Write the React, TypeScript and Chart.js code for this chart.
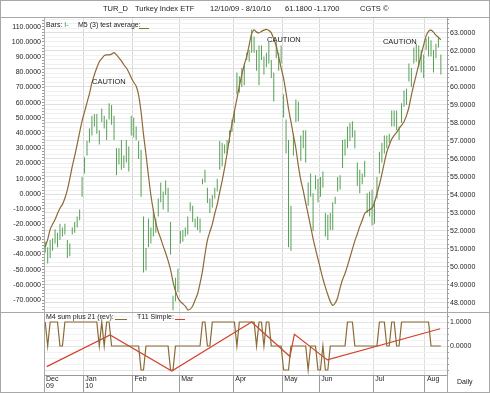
import { useEffect, useRef } from 'react';
import { Chart, registerables } from 'chart.js';

Chart.register(...registerables);

const FONT = "'Liberation Sans', Arial, Helvetica, sans-serif";
const BROWN = '#8c6a36';
const RED = '#d4402c';
const GREEN = '#55a055';
const FRAME = '#a8a8a8';
const TEXT = '#222222';

// ---- price bars (right axis), one per trading day, 12/10/09 .. 8/10/10 ----
const barLow = [
  50.8, 50.2, 50.5, 50.9, 51.3, 51.1, 51.5, 51.7, 51.8, 50.5, 50.6, 51.8, 51.9, 52.2, 52.6, 53.9,
  55.2, 56.2, 56.9, 57.3, 57.8, 57.4, 56.8, 58.05, 57.7, 57.05, 58.2, 57.9, 57.05, 55.1, 55.7, 55.4,
  55.5, 55.8, 55.3, 57.3, 57.2, 57.05, 56.0, 53.9, 49.7, 49.8, 51.1, 51.3, 51.7, 51.9, 52.8, 53.6,
  53.2, 54.0, 53.05, 50.7, 47.6, 48.1, 48.6, 51.3, 51.4, 51.7, 51.8, 53.1, 52.5, 52.2, 52.05, 51.9,
  54.6, 54.7, 53.55, 53.0, 53.3, 53.8, 54.2, 55.4, 55.6, 56.3, 56.3, 56.9, 57.5, 58.0, 59.6, 59.7,
  60.0, 60.1, 61.5, 61.4, 61.9, 61.9, 60.9, 60.1, 61.5, 60.7, 61.1, 61.3, 60.5, 59.2, 61.6, 60.9,
  61.3, 58.3, 56.3, 51.1, 50.9, 56.2, 58.05, 58.1, 55.9, 56.6, 55.8, 53.4, 53.9, 52.0, 54.3, 53.6,
  53.9, 54.4, 51.7, 51.5, 52.05, 52.05, 53.5, 54.2, 54.3, 55.5, 56.2, 56.6, 57.0, 57.2, 56.6, 54.5,
  54.1, 54.6, 55.0, 53.0, 52.8, 52.3, 52.4, 53.8, 55.2, 55.8, 56.3, 56.6, 56.9, 57.8, 57.8, 57.6,
  57.05, 58.0, 58.9, 59.0, 60.3, 60.0, 61.3, 61.4, 61.1, 60.8, 60.5, 62.05, 61.7, 61.7, 60.8, 61.6,
  62.2, 60.7,
];
const barHigh = [
  51.4, 51.1, 51.5, 51.6, 52.1, 51.9, 52.4, 52.2, 52.4, 51.5, 51.3, 52.2, 52.5, 52.8, 53.2, 55.0,
  56.1, 57.0, 57.7, 58.4, 58.5, 58.5, 57.6, 58.8, 58.4, 58.2, 59.1, 59.0, 58.4, 56.6, 56.6, 57.05,
  56.2, 57.05, 56.7, 58.4, 58.3, 57.8, 57.0, 56.5, 52.8, 51.05, 52.7, 52.2, 53.2, 52.7, 53.8, 54.7,
  54.2, 54.8, 54.4, 52.5, 48.4, 49.4, 49.9, 52.0, 52.05, 52.2, 52.8, 53.6, 53.4, 52.7, 52.8, 52.7,
  54.9, 55.4, 54.4, 53.8, 54.0, 54.4, 54.9, 57.0, 56.9, 56.8, 57.05, 57.6, 58.2, 58.7, 60.8, 60.6,
  61.05, 61.2, 61.9, 62.05, 63.2, 62.8, 62.05, 62.3, 62.3, 61.7, 61.9, 62.5, 61.5, 60.8, 62.5, 61.9,
  62.3, 59.6, 58.2, 57.05, 53.4, 57.4, 59.3, 59.2, 57.3, 57.6, 57.6, 54.7, 55.2, 54.1, 55.1, 54.9,
  55.0, 55.3, 53.0, 52.9, 53.0, 53.6, 53.9, 55.0, 55.1, 57.05, 57.1, 57.8, 58.0, 58.1, 57.6, 55.8,
  55.4, 55.2, 55.9, 54.1, 54.2, 54.3, 53.7, 55.0, 56.4, 56.9, 57.3, 57.3, 57.4, 58.7, 58.7, 58.7,
  57.8, 59.1, 59.8, 59.9, 61.3, 61.05, 62.2, 62.4, 62.3, 62.05, 61.8, 62.7, 62.8, 62.6, 62.05, 62.4,
  62.8, 61.8,
];

// ---- M5 (3) test average (left axis) ----
const oscillator = [
  -35, -30, -23.5, -20, -17, -13, -9.5, -7, -3, 2.5, 10, 18, 25, 32.5, 40.5, 48,
  54, 60, 66, 73, 78.5, 83, 87, 89, 91, 91.5, 91.5, 92, 93, 91.5, 89.5, 87.5,
  85, 83, 80, 76.5, 73.5, 71, 65, 54, 39, 26, 12, -1, -11, -19, -25, -29.5,
  -34.5, -39, -44, -50, -58, -64, -68.5, -71, -72.5, -74, -76.5, -76, -74, -70, -66, -59,
  -51, -40, -30.5, -25, -20, -13, -7, 1, 8.5, 17, 26.5, 37, 46, 54.5, 62.5, 71,
  78.5, 85, 90.5, 98, 105.5, 108, 106.5, 106, 107, 107.8, 108.3, 107.5, 106, 102, 97.5, 90,
  83, 76, 66.5, 56, 47.5, 38.5, 30, 18.5, 9, 2, -6, -13.5, -21.5, -29.5, -36.5, -43,
  -49.5, -56, -61.5, -66.5, -71, -73.5, -72, -68.5, -62, -56.5, -52.5, -47.5, -42, -36.5, -31, -26.5,
  -21.5, -17.5, -13, -11.5, -10.5, -9.5, -5.5, 0, 6, 13, 20.5, 27.5, 32, 36, 38.5, 40.5,
  43, 45, 47.5, 51.5, 57, 65, 72, 78.5, 85, 91.5, 98, 104, 107, 107.8, 106.5, 104.5,
  103, 101.5,
];

// ---- M4 sum plus 21 (rev) (lower panel) ----
const stepSignal = [
  1, 0, 1, 1, 1, 1, 0, 0, 1,
  1, 1, 1, 1, 1, 1, 1, 1, 1, 1, 1, 1, 1,
  0, 1, 0, 1, 1, 0,
  0, 0, 0, 0, 0, 0, 0, 0, 0, 0, 0,
  -1, -1,
  0, 0, 0, 0, 0, 0, 0, 0, 0, 0,
  -1, -1,
  0, 0, 0, 0, 0, 0, 0, 0, 0, 0, 0,
  1, 1, 0, 0,
  1, 1, 1, 1, 1, 1, 1, 1, 1, 1,
  0,
  1, 1, 1, 1, 1, 1, 1,
  0, 1, 1, 0, 1, 1,
  0, 0, 0, 0, 0,
  -1, -1, -1,
  0, 0, 0, 0, 0, 0, 0,
  -1,
  0, 0, 0,
  -1, -1, 0, -1, -1,
  0, 0, 0, 0, 0, 0, 0,
  1, 1, 1,
  0, 0, 0, 0, 0, 0, 0, 0, 0, 0,
  1, 1, 1, 0, 0, 1, 1, 0, 0,
  1, 1, 1, 1, 1, 1, 1, 1, 1, 1, 1, 1,
  0, 0, 0, 0, 0,
];

// ---- T11 Simple (lower panel), vertices ----
const trendX = [0.6, 26.4, 51.5, 84, 99.6, 101.4, 114.8, 160.7];
const trendY = [-0.86, 0.46, -1.04, 1.0, -0.44, 0.49, -0.58, 0.72];

// ---- x axis months (index of first bar of each month) ----
const monthStarts = [0, 16, 36, 55, 77, 97, 112, 134, 155];
const monthLabels = ['Dec', 'Jan', 'Feb', 'Mar', 'Apr', 'May', 'Jun', 'Jul', 'Aug'];
const yearLabels = ['09', '10', '', '', '', '', '', '', ''];

// ---- CAUTION annotations (bar index, left-axis value) ----
const cautionX = [25.9, 97.1, 144.3];
const cautionY = [73.7, 101.5, 99.9];

const X_MIN = -0.5;
const X_MAX = 163.5;

function range(a: number, b: number, s: number) {
  const out: number[] = [];
  for (let v = a; v <= b + 1e-9; v += s) out.push(Math.round(v * 1000) / 1000);
  return out;
}
const leftTicks = range(-76, 114, 2);
const rightTicks = range(47.5, 63.75, 0.25);
const lowerTicks = range(-1, 1.25, 0.25);
const isInt = (v: number) => Math.abs(v - Math.round(v)) < 1e-6;

const cautionPlugin = {
  id: 'caution',
  afterDatasetsDraw(chart: any) {
    const { ctx, scales } = chart;
    ctx.save();
    ctx.font = `7.5px ${FONT}`;
    ctx.fillStyle = TEXT;
    ctx.textAlign = 'center';
    ctx.textBaseline = 'middle';
    cautionX.forEach((x, k) => {
      ctx.fillText('CAUTION', scales.x.getPixelForValue(x), scales.yL.getPixelForValue(cautionY[k]));
    });
    ctx.restore();
  },
};

const monthTickSetter = (s: any) => {
  s.ticks = monthStarts.map((m) => ({ value: m - 0.5 }));
};

function mainConfig(): any {
  return {
    type: 'bar',
    data: {
      datasets: [
        {
          type: 'line',
          label: 'M5 (3) test average',
          data: oscillator.map((y, i) => ({ x: i, y })),
          xAxisID: 'x',
          yAxisID: 'yL',
          borderColor: BROWN,
          borderWidth: 1.2,
          pointRadius: 0,
          tension: 0.2,
          order: 0,
        },
        {
          type: 'bar',
          label: 'Bars',
          data: barLow.map((lo, i) => ({ x: i, y: [lo, barHigh[i]] })),
          xAxisID: 'x',
          yAxisID: 'yR',
          backgroundColor: GREEN,
          borderWidth: 0,
          inflateAmount: 0,
          barThickness: 1,
          order: 1,
        },
      ],
    },
    options: {
      responsive: false,
      animation: false,
      layout: { padding: 0 },
      plugins: { legend: { display: false }, tooltip: { enabled: false } },
      scales: {
        x: {
          type: 'linear',
          axis: 'x',
          min: X_MIN,
          max: X_MAX,
          offset: false,
          afterBuildTicks: monthTickSetter,
          ticks: { display: false },
          grid: { offset: false, drawTicks: false, color: '#d6d6d6' },
          border: { display: false },
          afterFit: (s: any) => {
            s.height = 0;
            s.paddingLeft = 0;
            s.paddingRight = 0;
          },
        },
        yL: {
          type: 'linear',
          axis: 'y',
          position: 'left',
          min: -77.9,
          max: 115.8,
          beginAtZero: false,
          afterBuildTicks: (s: any) => {
            s.ticks = leftTicks.map((v) => ({ value: v }));
          },
          ticks: {
            autoSkip: false,
            padding: 1,
            color: TEXT,
            font: { family: FONT, size: 7 },
            callback: (v: number) => (Math.round(v) % 10 === 0 ? Number(v).toFixed(4) : ''),
          },
          grid: { drawOnChartArea: false, drawTicks: true, tickLength: 2, tickColor: '#9a9a9a' },
          border: { display: true, color: '#b0b0b0' },
          afterFit: (s: any) => {
            s.width = 44;
            s.paddingTop = 0;
            s.paddingBottom = 0;
          },
        },
        yR: {
          type: 'linear',
          axis: 'y',
          position: 'right',
          min: 47.5,
          max: 63.833,
          beginAtZero: false,
          afterBuildTicks: (s: any) => {
            s.ticks = rightTicks.map((v) => ({ value: v }));
          },
          ticks: {
            autoSkip: false,
            padding: 1,
            color: TEXT,
            font: { family: FONT, size: 7 },
            callback: (v: number) => (isInt(v) ? Number(v).toFixed(4) : ''),
          },
          grid: {
            drawTicks: true,
            tickLength: 2,
            tickColor: '#9a9a9a',
            color: (c: any) => (c.tick && isInt(c.tick.value) ? '#e0e0e0' : '#f0f0f0'),
          },
          border: { display: true, color: '#a0a0a0' },
          afterFit: (s: any) => {
            s.width = 43;
            s.paddingTop = 0;
            s.paddingBottom = 0;
          },
        },
      },
    },
    plugins: [cautionPlugin],
  };
}

function lowerConfig(): any {
  return {
    type: 'line',
    data: {
      datasets: [
        {
          label: 'M4 sum plus 21 (rev)',
          data: stepSignal.map((y, i) => ({ x: i, y })),
          yAxisID: 'yB',
          borderColor: BROWN,
          borderWidth: 1.2,
          pointRadius: 0,
          tension: 0,
        },
        {
          label: 'T11 Simple',
          data: trendX.map((x, k) => ({ x, y: trendY[k] })),
          yAxisID: 'yB',
          borderColor: RED,
          borderWidth: 1.2,
          pointRadius: 0,
          tension: 0,
        },
      ],
    },
    options: {
      responsive: false,
      animation: false,
      layout: { padding: { left: 44, right: 0, top: 0, bottom: 0 } },
      plugins: { legend: { display: false }, tooltip: { enabled: false } },
      scales: {
        x: {
          type: 'linear',
          min: X_MIN,
          max: X_MAX,
          afterBuildTicks: monthTickSetter,
          ticks: {
            autoSkip: false,
            minRotation: 0,
            maxRotation: 0,
            align: 'start',
            labelOffset: 2,
            padding: -17,
            color: TEXT,
            font: { family: FONT, size: 7, lineHeight: 1 },
            callback: (_v: number, idx: number) =>
              idx < monthLabels.length
                ? yearLabels[idx]
                  ? [monthLabels[idx], yearLabels[idx]]
                  : monthLabels[idx]
                : '',
          },
          grid: { color: '#dcdcdc', tickColor: '#9a9a9a', tickLength: 18, drawTicks: true },
          border: { display: true, color: '#999999' },
          afterFit: (s: any) => {
            s.height = 18;
            s.paddingLeft = 0;
            s.paddingRight = 0;
          },
        },
        yB: {
          type: 'linear',
          axis: 'y',
          position: 'right',
          min: -1.208,
          max: 1.375,
          afterBuildTicks: (s: any) => {
            s.ticks = lowerTicks.map((v) => ({ value: v }));
          },
          ticks: {
            autoSkip: false,
            padding: 1,
            color: TEXT,
            font: { family: FONT, size: 7 },
            callback: (v: number) => (v === 0 || v === 1 ? Number(v).toFixed(4) : ''),
          },
          grid: {
            drawTicks: true,
            tickLength: 2,
            tickColor: '#9a9a9a',
            color: (c: any) => (c.tick && isInt(c.tick.value) ? '#e4e4e4' : '#f2f2f2'),
          },
          border: { display: true, color: '#a0a0a0' },
          afterFit: (s: any) => {
            s.width = 43;
            s.paddingTop = 0;
            s.paddingBottom = 0;
          },
        },
      },
    },
  };
}

const abs = (extra: any) => ({ position: 'absolute' as const, ...extra });
const HLine = ({ x, y, w, c = FRAME }: any) => (
  <div style={abs({ left: x, top: y, width: w, height: 1, background: c })} />
);
const VLine = ({ x, y, h, c = FRAME }: any) => (
  <div style={abs({ left: x, top: y, width: 1, height: h, background: c })} />
);
const Txt = ({ x, y, size = 7, children, color = TEXT }: any) => (
  <div style={abs({ left: x, top: y, fontSize: size, lineHeight: '10px', whiteSpace: 'nowrap', color })}>{children}</div>
);

export default function App() {
  const mainRef = useRef<HTMLCanvasElement>(null);
  const lowRef = useRef<HTMLCanvasElement>(null);

  useEffect(() => {
    const main = new Chart(mainRef.current as HTMLCanvasElement, mainConfig());
    const low = new Chart(lowRef.current as HTMLCanvasElement, lowerConfig());
    return () => {
      main.destroy();
      low.destroy();
    };
  }, []);

  return (
    <div
      style={{
        position: 'fixed',
        left: 0,
        top: 0,
        width: 490,
        height: 393,
        background: '#ffffff',
        overflow: 'hidden',
        fontFamily: FONT,
        color: TEXT,
      }}
    >
      <canvas ref={mainRef} width={490} height={294} style={abs({ left: 0, top: 18, width: 490, height: 294 })} />
      <canvas ref={lowRef} width={490} height={80} style={abs({ left: 0, top: 313, width: 490, height: 80 })} />

      {/* frame */}
      <div style={abs({ left: 0, top: 0, width: 490, height: 393, border: `1px solid ${FRAME}`, boxSizing: 'border-box' })} />
      <HLine x={0} y={17} w={490} />
      <HLine x={0} y={312} w={490} />
      <VLine x={44} y={312} h={81} />
      <VLine x={447} y={375} h={18} />

      {/* title */}
      <Txt x={103} y={4} size={7.5}>TUR_D</Txt>
      <Txt x={135} y={4} size={7.5}>Turkey Index ETF</Txt>
      <Txt x={210} y={4} size={7.5}>12/10/09 - 8/10/10</Txt>
      <Txt x={285} y={4} size={7.5}>61.1800</Txt>
      <Txt x={314} y={4} size={7.5}>-1.1700</Txt>
      <Txt x={360} y={4} size={7.5}>CGTS ©</Txt>

      {/* main legend */}
      <Txt x={46} y={20}>
        Bars: <span style={{ color: '#3c8c3c' }}>I-</span>
      </Txt>
      <Txt x={78} y={20}>M5 (3) test average:</Txt>
      <HLine x={139} y={28} w={10} c={BROWN} />

      {/* lower legend */}
      <Txt x={46} y={312}>M4 sum plus 21 (rev):</Txt>
      <HLine x={115} y={319} w={12} c={BROWN} />
      <Txt x={137} y={312}>T11 Simple:</Txt>
      <HLine x={175} y={319} w={10} c={RED} />

      <Txt x={457} y={377}>Daily</Txt>
    </div>
  );
}
